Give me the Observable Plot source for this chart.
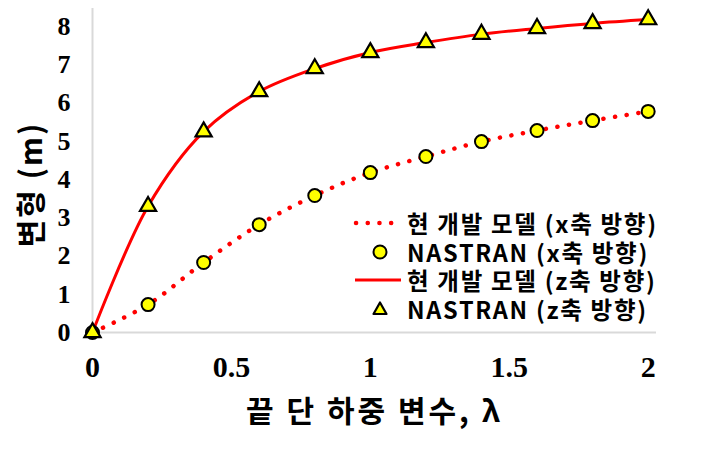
<!DOCTYPE html>
<html><head><meta charset="utf-8">
<script src="https://cdn.jsdelivr.net/npm/d3@7"></script>
<script src="https://cdn.jsdelivr.net/npm/@observablehq/plot@0.6"></script>
<style>
body{margin:0;background:#fff;}
#wrap{position:relative;width:708px;height:450px;}
#legend{position:absolute;left:352px;top:209px;font-family:"Noto Sans CJK KR","Noto Sans",sans-serif;font-weight:700;font-size:23.5px;letter-spacing:1.7px;color:#000;}
.row{display:flex;align-items:center;height:28.5px;}
.row svg{width:52px;height:28px;flex:none;}
.row span{display:inline-block;height:28px;overflow:visible;margin-left:3px;line-height:28px;white-space:nowrap;}
</style></head>
<body><div id="wrap"><div id="legend"></div></div>
<script>
const lambda = [0, 0.2, 0.4, 0.6, 0.8, 1.0, 1.2, 1.4, 1.6, 1.8, 2.0];
const dispX = [0, 0.73, 1.83, 2.82, 3.58, 4.18, 4.6, 4.99, 5.28, 5.54, 5.78];
const dispZ = [0, 3.3, 5.25, 6.3, 6.9, 7.32, 7.58, 7.8, 7.95, 8.08, 8.18];
const xTicks = [0, 0.5, 1, 1.5, 2];
const yTicks = [0, 1, 2, 3, 4, 5, 6, 7, 8];
const xTitle = "끝 단 하중 변수, λ";
const yTitle = "변형 (m)";
const legendLabels = ["현 개발 모델 (x축 방향)", "NASTRAN (x축 방향)", "현 개발 모델 (z축 방향)", "NASTRAN (z축 방향)"];

const dataX = lambda.map((l, i) => ({l, v: dispX[i]}));
const dataZ = lambda.map((l, i) => ({l, v: dispZ[i]}));

const chart = Plot.plot({
  width: 708, height: 450,
  marginLeft: 92, marginRight: 52, marginTop: 8, marginBottom: 118,
  style: {fontFamily: "'Liberation Serif', serif", fontWeight: "bold", color: "#000", background: "transparent"},
  x: {domain: [0, 2.03], ticks: xTicks, tickFormat: d => String(d), label: null},
  y: {domain: [0, 8.47], ticks: yTicks, tickFormat: d => String(d), label: null},
  marks: [
    Plot.ruleY([0], {stroke: "#d9d9d9", strokeWidth: 2}),
    Plot.ruleX([0], {stroke: "#d9d9d9", strokeWidth: 2}),
    Plot.axisX({ticks: xTicks, tickSize: 0, tickPadding: 23, tickFormat: d => String(d), fontSize: 30, fontWeight: "bold", label: null}),
    Plot.axisY({ticks: yTicks, tickSize: 0, tickPadding: 22, tickFormat: d => String(d), fontSize: 26, fontWeight: "bold", label: null}),
    Plot.line(dataX, {x: "l", y: "v", stroke: "#ff0000", strokeWidth: 4.5, strokeDasharray: "0.1,11.6", strokeLinecap: "round", curve: "catmull-rom"}),
    Plot.line(dataZ, {x: "l", y: "v", stroke: "#ff0000", strokeWidth: 3, curve: "catmull-rom"}),
    Plot.dot(dataX, {x: "l", y: "v", r: 6.5, fill: "#ffff00", stroke: "#000", strokeWidth: 2}),
    Plot.dot(dataZ, {x: "l", y: "v", r: 6, symbol: "triangle", fill: "#ffff00", stroke: "#000", strokeWidth: 2.2}),
    Plot.text([xTitle], {frameAnchor: "bottom", lineAnchor: "middle", textAnchor: "middle", dy: 80, fontFamily: "'Noto Sans CJK KR', sans-serif", fontSize: 30, fontWeight: "bold", fill: "#000"}),
    Plot.text([yTitle], {frameAnchor: "left", lineAnchor: "middle", textAnchor: "middle", dx: -60, dy: 14, rotate: -90, fontFamily: "'Noto Sans CJK KR', sans-serif", fontSize: 30, fontWeight: "bold", fill: "#000"})
  ]
});
d3.select(chart).selectAll("text").filter(function() { return this.textContent === xTitle; }).style("letter-spacing", "3px");
d3.select(chart).selectAll("text").filter(function() { return this.textContent === yTitle; }).style("letter-spacing", "2px");

const wrap = document.getElementById("wrap");
wrap.insertBefore(chart, wrap.firstChild);

// legend
const sw = [
  '<svg><line x1="4" y1="14" x2="42" y2="14" stroke="#ff0000" stroke-width="4.5" stroke-linecap="round" stroke-dasharray="0.1,11.6"/></svg>',
  '<svg><circle cx="28" cy="14" r="6.5" fill="#ffff00" stroke="#000" stroke-width="2"/></svg>',
  '<svg><line x1="3" y1="14" x2="49" y2="14" stroke="#ff0000" stroke-width="3"/></svg>',
  '<svg><path d="M28,7.5 L34.5,19 L21.5,19 Z" fill="#ffff00" stroke="#000" stroke-width="2.2" stroke-linejoin="round"/></svg>'
];
const leg = document.getElementById("legend");
legendLabels.forEach((t, i) => {
  const r = document.createElement("div");
  r.className = "row";
  r.innerHTML = sw[i] + "<span>" + t + "</span>";
  leg.appendChild(r);
});
</script></body></html>
